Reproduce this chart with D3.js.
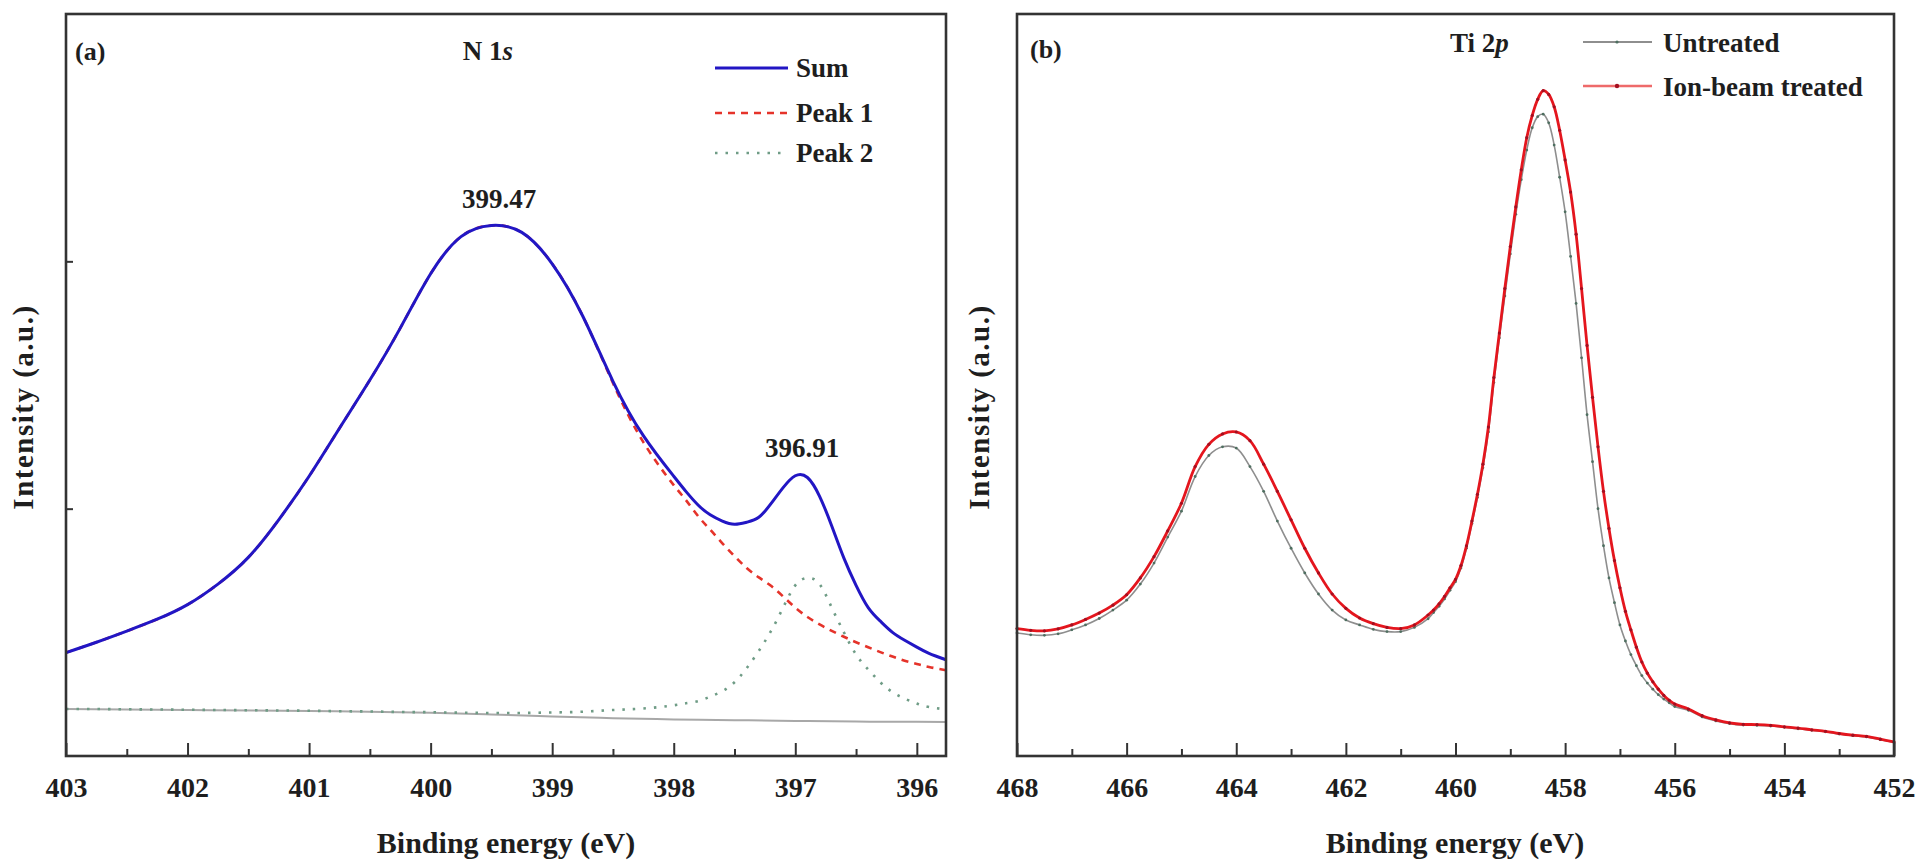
<!DOCTYPE html>
<html>
<head>
<meta charset="utf-8">
<script src="https://d3js.org/d3.v7.min.js"></script>
<style>
body {margin:0; background:#fff;}
text {font-family:'Liberation Serif','Times New Roman',serif; font-weight:bold; fill:#1e1e1e;}
.tick line {stroke:#333; stroke-width:2;}
</style>
</head>
<body>
<script>
// ---- panel (a): N 1s fit, intensity in a.u. ----
var n1sBE = [403, 402.75, 402.5, 402.25, 402, 401.75, 401.5, 401.25, 401, 400.75, 400.5, 400.25, 400,
  399.75, 399.5, 399.25, 399, 398.75, 398.5, 398.25, 398, 397.9, 397.8, 397.7, 397.6, 397.5, 397.4,
  397.3, 397.2, 397.1, 397.0, 396.9, 396.8, 396.7, 396.6, 396.5, 396.4, 396.3, 396.2, 396.1, 396.0,
  395.9, 395.76];
var n1sSum = [0.418, 0.46, 0.505, 0.553, 0.612, 0.695, 0.803, 0.955, 1.131, 1.325, 1.52, 1.73, 1.95,
  2.1, 2.145, 2.117, 1.99, 1.78, 1.515, 1.295, 1.131, 1.07, 1.015, 0.975, 0.95, 0.937, 0.945,
  0.965, 1.02, 1.085, 1.133, 1.126, 1.05, 0.93, 0.8, 0.69, 0.6, 0.545, 0.5, 0.468, 0.44,
  0.415, 0.389];
var n1sPeak1 = [0.418, 0.46, 0.505, 0.553, 0.612, 0.695, 0.803, 0.955, 1.131, 1.325, 1.52, 1.73, 1.95,
  2.1, 2.145, 2.117, 1.99, 1.78, 1.508, 1.269, 1.095, 1.035, 0.97, 0.915, 0.86, 0.808, 0.76,
  0.722, 0.688, 0.645, 0.6, 0.562, 0.532, 0.506, 0.482, 0.46, 0.44, 0.42, 0.402, 0.385, 0.372,
  0.36, 0.347];
var n1sPeak2 = [0.19, 0.19, 0.189, 0.188, 0.187, 0.186, 0.185, 0.184, 0.183, 0.181, 0.18, 0.178, 0.177,
  0.175, 0.174, 0.174, 0.176, 0.179, 0.186, 0.192, 0.205, 0.213, 0.222, 0.24, 0.262, 0.298, 0.355,
  0.425, 0.505, 0.6, 0.69, 0.72, 0.695, 0.6, 0.5, 0.41, 0.35, 0.298, 0.258, 0.232, 0.212,
  0.198, 0.188];
var bgBE = [403, 402, 401, 400, 399.5, 399, 398.5, 398, 397.5, 397, 396.5, 396, 395.76];
var bgI = [0.19, 0.186, 0.182, 0.175, 0.168, 0.16, 0.153, 0.148, 0.145, 0.142, 0.139, 0.138, 0.137];
var n1sTicks = [403, 402, 401, 400, 399, 398, 397, 396];
var n1sMinor = [402.5, 401.5, 400.5, 399.5, 398.5, 397.5, 396.5];
var n1sYTicks = [1, 2];

// ---- panel (b): Ti 2p ----
var tiBE = [468, 467.75, 467.5, 467.25, 467, 466.75, 466.5, 466.25, 466, 465.75, 465.5, 465.25, 465,
  464.75, 464.5, 464.25, 464, 463.75, 463.5, 463.25, 463, 462.75, 462.5, 462.25, 462, 461.75, 461.5,
  461.25, 461, 460.75, 460.5,
  460.4, 460.3, 460.2, 460.1, 460.0, 459.9, 459.8, 459.7, 459.6, 459.5, 459.4, 459.3, 459.2, 459.1,
  459.0, 458.9, 458.8, 458.7, 458.6, 458.5, 458.4, 458.3, 458.2, 458.1, 458.0, 457.9, 457.8, 457.7,
  457.6, 457.5, 457.4, 457.3, 457.2, 457.1, 457.0, 456.9, 456.8, 456.7, 456.6, 456.5, 456.4, 456.3,
  456.2, 456.1, 456.0,
  455.75, 455.5, 455.25, 455, 454.75, 454.5, 454.25, 454, 453.75, 453.5, 453.25, 453, 452.75, 452.5,
  452.25, 452];
var tiUntreated = [0.497, 0.49, 0.488, 0.494, 0.51, 0.53, 0.556, 0.59, 0.63, 0.695, 0.78, 0.885, 0.99,
  1.13, 1.215, 1.25, 1.245, 1.17, 1.07, 0.95, 0.84, 0.74, 0.655, 0.59, 0.55, 0.53, 0.512,
  0.503, 0.503, 0.52, 0.555,
  0.58, 0.605, 0.635, 0.67, 0.705, 0.76, 0.84, 0.94, 1.045, 1.165, 1.31, 1.51, 1.69, 1.86,
  2.03, 2.19, 2.33, 2.45, 2.54, 2.585, 2.595, 2.56, 2.47, 2.34, 2.2, 2.02, 1.83, 1.61,
  1.38, 1.19, 1.0, 0.85, 0.72, 0.62, 0.53, 0.465, 0.41, 0.365, 0.325, 0.295, 0.27, 0.248,
  0.23, 0.215, 0.2,
  0.185, 0.158, 0.142, 0.131, 0.125, 0.124, 0.121, 0.116, 0.11, 0.104, 0.098, 0.089, 0.082, 0.077,
  0.066, 0.055];
var tiTreated = [0.515, 0.508, 0.506, 0.514, 0.53, 0.552, 0.578, 0.61, 0.652, 0.72, 0.806, 0.91, 1.022,
  1.17, 1.26, 1.302, 1.31, 1.275, 1.18, 1.07, 0.955, 0.84, 0.74, 0.655, 0.597, 0.558, 0.535,
  0.52, 0.515, 0.53, 0.57,
  0.59, 0.615, 0.645, 0.68, 0.714, 0.77, 0.85, 0.95, 1.058, 1.18, 1.33, 1.53, 1.71, 1.89,
  2.06, 2.22, 2.37, 2.5, 2.59, 2.655, 2.69, 2.675, 2.625, 2.53, 2.41, 2.28, 2.11, 1.89,
  1.66, 1.45, 1.25, 1.07, 0.92, 0.79, 0.68, 0.585, 0.51, 0.44, 0.38, 0.335, 0.3, 0.27,
  0.245, 0.225, 0.21,
  0.19, 0.163, 0.146, 0.134, 0.128, 0.127, 0.124, 0.118, 0.113, 0.106, 0.1, 0.091, 0.084, 0.079,
  0.068, 0.057];
var tiTicks = [468, 466, 464, 462, 460, 458, 456, 454, 452];
var tiMinor = [467, 465, 463, 461, 459, 457, 455, 453];

var top0 = 14, bottom0 = 756;

var svg = d3.select('body').append('svg')
  .attr('width', 1923)
  .attr('height', 866);

var xA = d3.scaleLinear().domain([403, 395.76]).range([66, 946]);
var yA = d3.scaleLinear().domain([0, 3]).range([bottom0, top0]);
var xB = d3.scaleLinear().domain([468, 452]).range([1017, 1894]);
var yB = d3.scaleLinear().domain([0, 3]).range([bottom0, top0]);

function zip(xs, ys) { return xs.map(function(d, i) { return [d, ys[i]]; }); }

function axes(x, ticks, minor) {
  var ga = svg.append('g')
    .attr('transform', 'translate(0,' + bottom0 + ')')
    .call(d3.axisBottom(x).tickValues(ticks).tickSize(-13).tickSizeOuter(0).tickPadding(21).tickFormat(d3.format('d')));
  ga.select('.domain').remove();
  ga.selectAll('text').attr('font-size', 28).attr('fill', '#1e1e1e');
  var gm = svg.append('g')
    .attr('transform', 'translate(0,' + bottom0 + ')')
    .call(d3.axisBottom(x).tickValues(minor).tickSize(-7).tickSizeOuter(0).tickFormat(''));
  gm.select('.domain').remove();
}

function frame(x) {
  var r = x.range();
  svg.append('rect')
    .attr('x', r[0]).attr('y', top0)
    .attr('width', r[1] - r[0]).attr('height', bottom0 - top0)
    .attr('fill', 'none').attr('stroke', '#333').attr('stroke-width', 2.6);
}

function label(x, y, txt, size, anchor) {
  return svg.append('text').attr('x', x).attr('y', y)
    .attr('font-size', size || 27)
    .style('text-anchor', anchor || 'start')
    .text(txt);
}

// ---------- panel (a) ----------
var lineA = d3.line().x(function(d){return xA(d[0]);}).y(function(d){return yA(d[1]);}).curve(d3.curveNatural);

svg.append('path').datum(zip(bgBE, bgI))
  .attr('d', lineA).attr('fill', 'none').attr('stroke', '#a8a8a8').attr('stroke-width', 2);
svg.append('path').datum(zip(n1sBE, n1sPeak2))
  .attr('d', lineA).attr('fill', 'none').attr('stroke', '#6f9c86').attr('stroke-width', 2.6)
  .attr('stroke-dasharray', '2.5,8');
svg.append('path').datum(zip(n1sBE, n1sPeak1))
  .attr('d', lineA).attr('fill', 'none').attr('stroke', '#e5332a').attr('stroke-width', 2.6)
  .attr('stroke-dasharray', '7,6');
svg.append('path').datum(zip(n1sBE, n1sSum))
  .attr('d', lineA).attr('fill', 'none').attr('stroke', '#2216c4').attr('stroke-width', 3);

var gy = svg.append('g').attr('transform', 'translate(66,0)')
  .call(d3.axisLeft(yA).tickValues(n1sYTicks).tickSize(-7).tickFormat(''));
gy.select('.domain').remove();

axes(xA, n1sTicks, n1sMinor);
frame(xA);

label(75, 60, '(a)', 26);
var t1 = label(488, 60, 'N 1', 27, 'middle');
t1.append('tspan').style('font-style', 'italic').text('s');
label(499, 208, '399.47', 27, 'middle');
label(802, 457, '396.91', 27, 'middle');

// legend (a)
var legA = [
  {name: 'Sum', color: '#2216c4', dash: null},
  {name: 'Peak 1', color: '#e5332a', dash: '7,6'},
  {name: 'Peak 2', color: '#6f9c86', dash: '2.5,8'}
];
var ly = [68, 113, 153];
legA.forEach(function(d, i) {
  svg.append('line').attr('x1', 715).attr('x2', 788).attr('y1', ly[i]).attr('y2', ly[i])
    .attr('stroke', d.color).attr('stroke-width', d.dash ? 2.6 : 3)
    .attr('stroke-dasharray', d.dash);
  label(796, ly[i] + 9, d.name, 27);
});

svg.append('text')
  .attr('transform', 'translate(33,407)rotate(-90)')
  .attr('font-size', 29).style('letter-spacing', '1.5px')
  .style('text-anchor', 'middle')
  .text('Intensity (a.u.)');
label(506, 853, 'Binding energy (eV)', 30, 'middle');

// ---------- panel (b) ----------
var lineB = d3.line().x(function(d){return xB(d[0]);}).y(function(d){return yB(d[1]);}).curve(d3.curveCatmullRom.alpha(0.5));

var untreated = zip(tiBE, tiUntreated);
var treated = zip(tiBE, tiTreated);

svg.append('path').datum(untreated)
  .attr('d', lineB).attr('fill', 'none').attr('stroke', '#8e8e8e').attr('stroke-width', 1.6);
svg.append('g').selectAll('circle').data(untreated).enter().append('circle')
  .attr('cx', function(d){return xB(d[0]);})
  .attr('cy', function(d){return yB(d[1]);})
  .attr('r', 1.4).attr('fill', '#4e6f60');

svg.append('path').datum(treated)
  .attr('d', lineB).attr('fill', 'none').attr('stroke', '#e4161e').attr('stroke-width', 2.8);
svg.append('g').selectAll('circle').data(treated).enter().append('circle')
  .attr('cx', function(d){return xB(d[0]);})
  .attr('cy', function(d){return yB(d[1]);})
  .attr('r', 1.6).attr('fill', '#a30f20');

axes(xB, tiTicks, tiMinor);
frame(xB);

label(1030, 58, '(b)', 26);
var t2 = label(1450, 52, 'Ti 2', 27, 'start');
t2.append('tspan').style('font-style', 'italic').text('p');

// legend (b)
svg.append('line').attr('x1', 1583).attr('x2', 1652).attr('y1', 42).attr('y2', 42)
  .attr('stroke', '#8e8e8e').attr('stroke-width', 1.8);
svg.append('circle').attr('cx', 1617).attr('cy', 42).attr('r', 1.6).attr('fill', '#4e6f60');
label(1663, 52, 'Untreated', 27);
svg.append('line').attr('x1', 1583).attr('x2', 1652).attr('y1', 86).attr('y2', 86)
  .attr('stroke', '#ee6a6a').attr('stroke-width', 2.4);
svg.append('circle').attr('cx', 1617).attr('cy', 86).attr('r', 2.2).attr('fill', '#a30f20');
label(1663, 96, 'Ion-beam treated', 27);

svg.append('text')
  .attr('transform', 'translate(989,407)rotate(-90)')
  .attr('font-size', 29).style('letter-spacing', '1.5px')
  .style('text-anchor', 'middle')
  .text('Intensity (a.u.)');
label(1455, 853, 'Binding energy (eV)', 30, 'middle');
</script>
</body>
</html>
